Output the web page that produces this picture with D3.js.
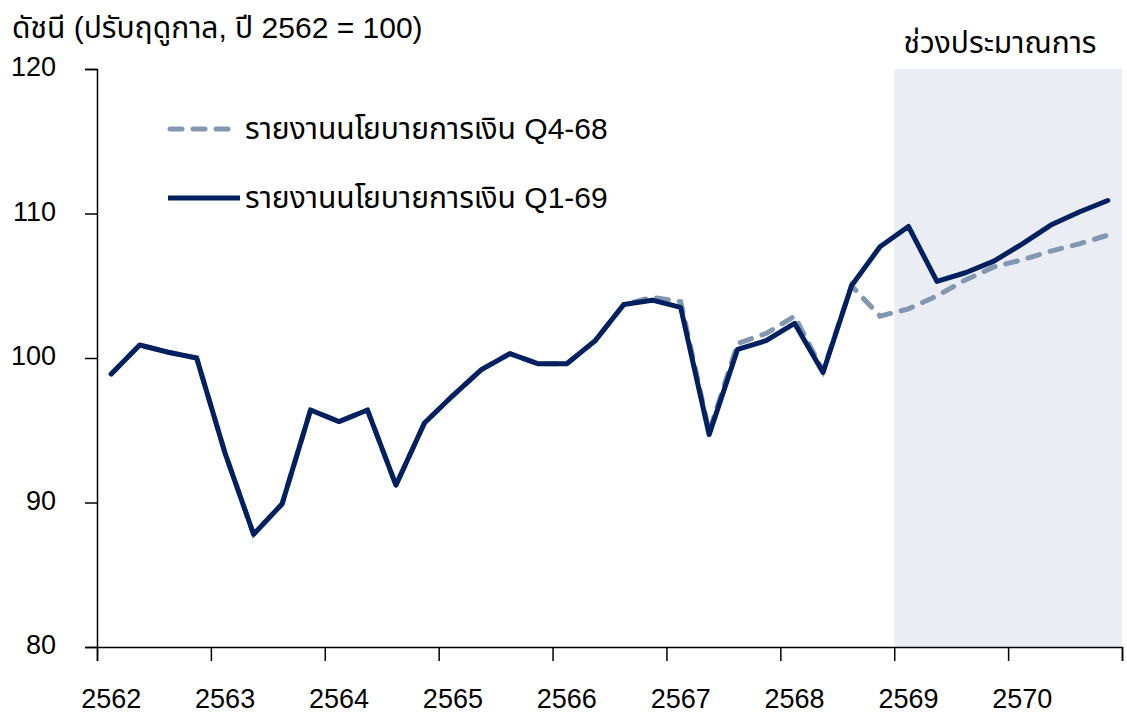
<!DOCTYPE html>
<html>
<head>
<meta charset="utf-8">
<script src="https://cdn.jsdelivr.net/npm/d3@7"></script>
<style>
  html, body { margin: 0; padding: 0; background: #fff; }
  svg text { font-family: "Liberation Sans", Arimo, "Noto Sans Thai", "Noto Sans", sans-serif; fill: #000; }
</style>
</head>
<body>
<svg id="chart" width="1127" height="717"></svg>
<script>
// Quarterly index, seasonally adjusted (2562 = 100), 2562Q1 .. 2570Q4
const years = [2562, 2563, 2564, 2565, 2566, 2567, 2568, 2569, 2570];
const quartersPerYear = 4;

// Policy report Q1-69 (solid)
const seriesQ169 = [
  98.9, 100.9, 100.4, 100.0,
  93.4, 87.8, 89.9, 96.4,
  95.6, 96.4, 91.2, 95.5,
  97.4, 99.2, 100.3, 99.6,
  99.6, 101.2, 103.7, 104.0,
  103.5, 94.7, 100.6, 101.2,
  102.4, 99.0, 105.0, 107.7,
  109.1, 105.3, 105.9, 106.7,
  107.9, 109.2, 110.1, 110.9
];

// Policy report Q4-68 (dashed)
const seriesQ468 = [
  98.9, 100.9, 100.4, 100.0,
  93.4, 87.8, 89.9, 96.4,
  95.6, 96.4, 91.2, 95.5,
  97.4, 99.2, 100.3, 99.6,
  99.6, 101.2, 103.7, 104.2,
  103.9, 94.9, 101.0, 101.7,
  102.9, 99.1, 105.0, 102.9,
  103.4, 104.3, 105.4, 106.3,
  106.8, 107.4, 107.9, 108.5
];

const yTicks = [80, 90, 100, 110, 120];
const forecastStartYear = 2569;

const legendLabels = ["รายงานนโยบายการเงิน Q4-68", "รายงานนโยบายการเงิน Q1-69"];
const yTitle = "ดัชนี (ปรับฤดูกาล, ปี 2562 = 100)";
const forecastLabel = "ช่วงประมาณการ";

const colorQ468 = "#8497b0";
const colorQ169 = "#002060";

const svg = d3.select("#chart");
const margin = { left: 97, right: 5, top: 69, bottom: 70 };
const W = 1127, H = 717;

const nQ = years.length * quartersPerYear;
const x = d3.scaleLinear()
  .domain([0, nQ])
  .range([margin.left, W - margin.right]);
const y = d3.scaleLinear()
  .domain([80, 120])
  .range([H - margin.bottom, margin.top]);

// forecast shading
const fStart = (forecastStartYear - years[0]) * quartersPerYear;
svg.append("rect")
  .attr("x", x(fStart))
  .attr("y", y(120))
  .attr("width", x(nQ) - x(fStart))
  .attr("height", y(80) - y(120))
  .attr("fill", "#eaedf3");

svg.append("text")
  .attr("x", 1000)
  .attr("y", 53)
  .attr("text-anchor", "middle")
  .attr("font-size", 30)
  .text(forecastLabel);

// y axis
const yAxis = d3.axisLeft(y).tickValues(yTicks).tickSize(12).tickPadding(29).tickFormat(d3.format("d"));
const gy = svg.append("g").attr("transform", `translate(${x(0)},0)`).call(yAxis);
gy.select(".domain").attr("stroke", "#000").attr("stroke-width", 1.5);
gy.selectAll(".tick line").attr("stroke", "#000").attr("stroke-width", 1.5);
gy.selectAll(".tick text").attr("font-size", 27).attr("fill", "#000").attr("dy", "0.25em")
  .style("font-family", "'Liberation Sans', Arimo, sans-serif");

// x axis: ticks at year boundaries, labels on the first quarter of each year
const yearIdx = d3.range(years.length + 1).map(i => i * quartersPerYear);
const xAxis = d3.axisBottom(x).tickValues(yearIdx).tickSize(14).tickFormat("");
const gx = svg.append("g").attr("transform", `translate(0,${y(80)})`).call(xAxis);
gx.select(".domain").attr("stroke", "#000").attr("stroke-width", 1.5);
gx.selectAll(".tick line").attr("stroke", "#000").attr("stroke-width", 1.5);

svg.append("g").selectAll("text")
  .data(years)
  .join("text")
  .attr("x", (d, i) => x(i * quartersPerYear + 0.5))
  .attr("y", 708)
  .attr("text-anchor", "middle")
  .attr("font-size", 27)
  .text(d => d);

// y title
svg.append("text")
  .attr("x", 12)
  .attr("y", 38)
  .attr("font-size", 30)
  .text(yTitle);

// lines
const line = d3.line()
  .x((d, i) => x(i + 0.5))
  .y(d => y(d));

svg.append("path")
  .datum(seriesQ468)
  .attr("d", line)
  .attr("fill", "none")
  .attr("stroke", colorQ468)
  .attr("stroke-width", 5)
  .attr("stroke-dasharray", "12 11")
  .attr("stroke-linecap", "round");

svg.append("path")
  .datum(seriesQ169)
  .attr("d", line)
  .attr("fill", "none")
  .attr("stroke", colorQ169)
  .attr("stroke-width", 5)
  .attr("stroke-linejoin", "round")
  .attr("stroke-linecap", "round");

// legend
const legend = svg.append("g");
legend.append("line")
  .attr("x1", 170).attr("x2", 234).attr("y1", 129).attr("y2", 129)
  .attr("stroke", colorQ468).attr("stroke-width", 5)
  .attr("stroke-dasharray", "12 11").attr("stroke-linecap", "round");
legend.append("text").attr("x", 245).attr("y", 139).attr("font-size", 30).text(legendLabels[0]);
legend.append("line")
  .attr("x1", 168).attr("x2", 240).attr("y1", 198).attr("y2", 198)
  .attr("stroke", colorQ169).attr("stroke-width", 5);
legend.append("text").attr("x", 245).attr("y", 208).attr("font-size", 30).text(legendLabels[1]);
</script>
</body>
</html>
